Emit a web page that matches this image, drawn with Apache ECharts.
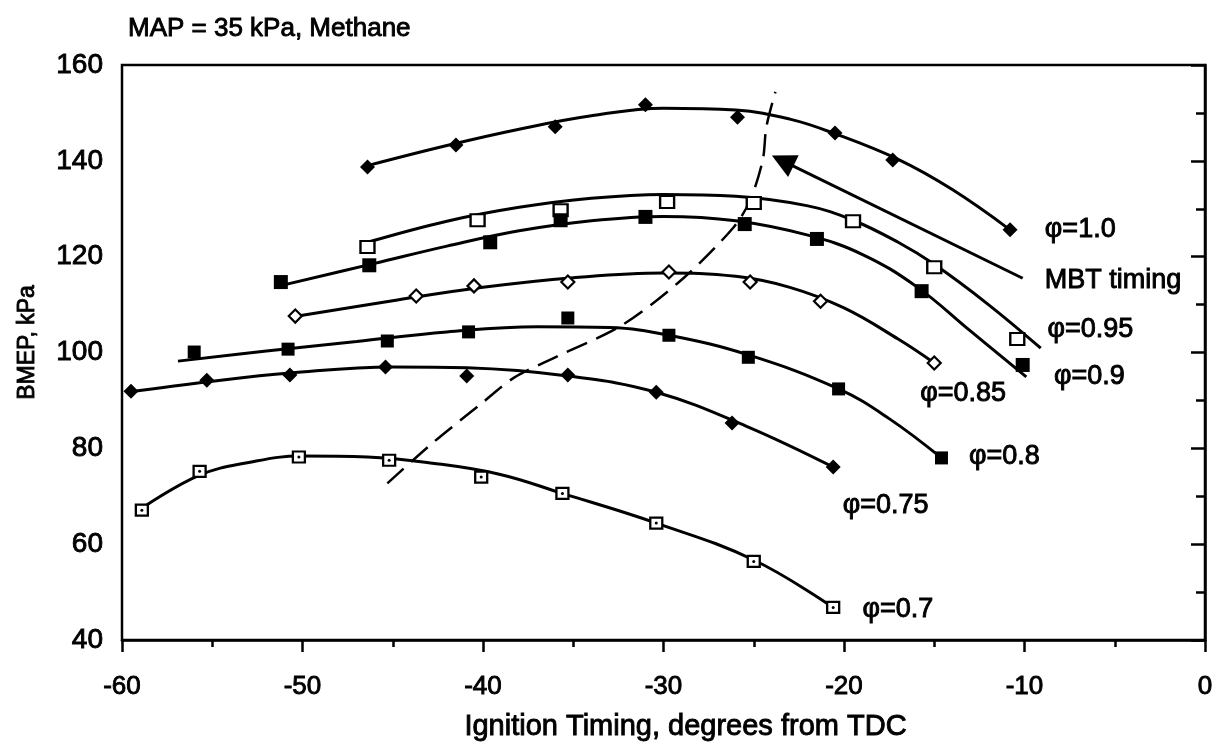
<!DOCTYPE html>
<html>
<head>
<meta charset="utf-8">
<title>BMEP vs ignition timing</title>
<script src="https://cdn.jsdelivr.net/npm/echarts@6/dist/echarts.min.js"></script>
<style>
  html, body { margin: 0; padding: 0; background: #fff; }
  #chart { width: 1214px; height: 742px; }
</style>
</head>
<body>
<div id="chart"></div>
<script>
// x = ignition timing (deg from TDC), y = BMEP (kPa)
var phi10Points = [[-46.4, 138.7], [-41.5, 143.3], [-36.0, 147.1], [-31.0, 151.7], [-25.9, 149.1], [-20.5, 145.8], [-17.3, 140.2], [-10.8, 125.6]]
var phi10Curve = [[-46.4, 139.0], [-42, 143.2], [-38, 146.6], [-34, 149.4], [-30, 151.0], [-26, 150.6], [-23, 148.7], [-20.6, 145.8], [-17, 140.3], [-14, 134.0], [-10.8, 125.6]]

var phi095Points = [[-46.4, 122.0], [-40.3, 127.6], [-35.7, 129.7], [-29.8, 131.4], [-25.0, 131.2], [-19.5, 127.4], [-15.0, 117.8], [-10.4, 102.8]]
var phi095Curve = [[-46.4, 123.0], [-42, 127.4], [-38, 130.3], [-34, 132.2], [-30, 133.0], [-26, 132.6], [-22, 130.6], [-19.5, 127.6], [-17, 123.0], [-15, 118.4], [-12, 110.0], [-9.1, 100.9]]

var phi09Points = [[-51.2, 114.7], [-46.3, 118.2], [-39.6, 123.0], [-35.7, 127.6], [-31.0, 128.3], [-25.5, 126.8], [-21.5, 123.7], [-15.7, 112.8], [-10.1, 97.4]]
var phi09Curve = [[-51.5, 113.7], [-46, 118.6], [-42, 122.2], [-38, 125.4], [-34, 127.5], [-30, 128.4], [-26, 127.5], [-22, 124.5], [-19, 120.5], [-16, 113.8], [-13, 104.5], [-9.9, 94.9]]

var phi085Points = [[-50.4, 107.6], [-43.7, 111.8], [-40.5, 113.9], [-35.3, 114.7], [-29.7, 116.8], [-25.2, 114.7], [-21.3, 110.7], [-15.0, 97.8]]
var phi085Curve = [[-50.6, 107.4], [-45, 110.8], [-40, 113.6], [-35, 115.6], [-30, 116.6], [-26, 115.9], [-23, 113.6], [-20, 109.3], [-17, 102.8], [-15, 97.8]]

var phi08Points = [[-56.0, 100.1], [-50.8, 100.7], [-45.3, 102.4], [-40.8, 104.3], [-35.3, 107.2], [-29.7, 103.6], [-25.3, 99.0], [-20.3, 92.4], [-14.6, 78.0]]
var phi08Curve = [[-56.9, 98.2], [-52, 100.3], [-47, 102.3], [-42, 104.3], [-37, 105.4], [-33, 105.2], [-29.7, 103.6], [-25.3, 99.5], [-20.3, 92.4], [-17.5, 86.2], [-14.6, 78.0]]

var phi075Points = [[-59.5, 91.9], [-55.3, 94.2], [-50.7, 95.3], [-45.4, 97.0], [-40.9, 95.1], [-35.3, 95.3], [-30.4, 91.7], [-26.2, 85.3], [-20.6, 76.1]]
var phi075Curve = [[-59.7, 91.7], [-55, 94.0], [-50.7, 95.7], [-45, 97.0], [-40.9, 96.8], [-35.3, 95.1], [-30.4, 91.7], [-25.4, 84.6], [-20.6, 76.1]]

var phi07Points = [[-58.9, 67.1], [-55.7, 75.2], [-50.2, 78.2], [-45.2, 77.5], [-40.1, 74.0], [-35.6, 70.6], [-30.4, 64.4], [-25.0, 56.4], [-20.6, 46.8]]
var phi07Curve = [[-58.9, 67.5], [-55.7, 74.4], [-52.9, 77.1], [-50.1, 78.4], [-46.4, 78.2], [-42.8, 76.9], [-39.1, 74.6], [-35.6, 70.6], [-30.4, 64.4], [-25.0, 56.7], [-20.6, 46.8]]

// dashed MBT timing locus and the arrow that labels it
var mbtLine = [[-45.3, 72.7], [-42.8, 81.1], [-40.2, 89.0], [-38.3, 94.7], [-36.0, 99.0], [-32.3, 105.7], [-28.9, 115.5], [-26.1, 126.2], [-25.2, 131.8], [-24.5, 140.2], [-24.3, 147.1], [-23.8, 154.4]]
var mbtPointer = [[-23.4, 140.0], [-10.1, 115.5]]

var labelTexts = ['φ=1.0', 'MBT timing', 'φ=0.95', 'φ=0.9', 'φ=0.85', 'φ=0.8', 'φ=0.75', 'φ=0.7']
var labelX = [-8.9, -8.9, -8.75, -8.4, -15.8, -13.1, -20.1, -19.0]
var labelY = [125.6, 115.1, 104.7, 94.9, 91.5, 78.2, 68.1, 46.4]

var xTickLabels = [-60, -50, -40, -30, -20, -10, 0]
var Y_MIN = 40

var FONT = 'Liberation Sans, Arial, Helvetica, sans-serif'
// thin outline makes the text look as heavy as the scanned original
var INK = { fontFamily: FONT, color: '#000', textBorderColor: '#000', textBorderWidth: 0.9, opacity: 1 }

function txt(size, extra) {
  return Object.assign({ fontSize: size }, INK, extra || {})
}

function curve(data) {
  return {
    type: 'line',
    data: data,
    smooth: 0.4,
    showSymbol: false,
    silent: true,
    z: 2,
    lineStyle: { color: '#000', width: 3 }
  }
}

function points(data, symbol, size, filled) {
  return {
    type: 'scatter',
    data: data,
    symbol: symbol,
    symbolSize: size,
    z: 3,
    itemStyle: {
      color: filled ? '#000' : '#fff',
      borderColor: '#000',
      borderWidth: filled ? 0 : 2.2,
      opacity: 1
    }
  }
}

var chart = echarts.init(document.getElementById('chart'))

chart.setOption({
  animation: false,
  backgroundColor: '#fff',
  textStyle: { fontFamily: FONT, color: '#000' },
  title: {
    text: 'MAP = 35 kPa, Methane',
    left: 128,
    top: 16,
    padding: 0,
    textStyle: txt(26, { fontWeight: 'normal' })
  },
  grid: {
    left: 122,
    right: 9,
    top: 65,
    bottom: 102,
    // only the tick labels need to stay inside; the axis names sit near the edge
    outerBoundsContain: 'axisLabel',
    show: true,
    borderColor: '#000',
    borderWidth: 2.5
  },
  xAxis: {
    type: 'value',
    min: -60,
    max: 0,
    interval: 10,
    name: 'Ignition Timing, degrees from TDC',
    nameLocation: 'middle',
    nameGap: 72,
    nameTextStyle: txt(29, { padding: [0, 0, 0, 44] }),
    axisLine: { lineStyle: { color: '#000', width: 2.5 } },
    axisTick: { length: 12, lineStyle: { color: '#000', width: 2.5 } },
    minorTick: { show: true, splitNumber: 2, length: 7, lineStyle: { color: '#000', width: 2.5 } },
    // tick labels are drawn by the series below so their distance is exact
    axisLabel: { show: false },
    splitLine: { show: false }
  },
  yAxis: {
    type: 'value',
    min: Y_MIN,
    max: 160,
    interval: 20,
    name: 'BMEP, kPa',
    nameLocation: 'middle',
    nameGap: 83,
    nameTextStyle: txt(23, { padding: [0, 0, 0, 20] }),
    axisLine: { lineStyle: { color: '#000', width: 2.5 } },
    axisTick: { length: 14, lineStyle: { color: '#000', width: 2.5 } },
    minorTick: { show: true, splitNumber: 2, length: 9, lineStyle: { color: '#000', width: 2.5 } },
    axisLabel: txt(28, { margin: 19 }),
    splitLine: { show: false }
  },
  series: [
    curve(phi10Curve),
    curve(phi095Curve),
    curve(phi09Curve),
    curve(phi085Curve),
    curve(phi08Curve),
    curve(phi075Curve),
    curve(phi07Curve),
    {
      type: 'line',
      data: mbtLine,
      smooth: 0.3,
      showSymbol: false,
      silent: true,
      z: 2,
      lineStyle: { color: '#000', width: 2.5, type: [22, 10] }
    },
    {
      type: 'lines',
      coordinateSystem: 'cartesian2d',
      silent: true,
      z: 2,
      symbol: ['triangle', 'none'],
      symbolSize: 24,
      lineStyle: { color: '#000', width: 3, opacity: 1 },
      data: [{ coords: mbtPointer }]
    },
    points(phi10Points, 'diamond', 15, true),
    points(phi095Points, 'rect', [14, 12], false),
    points(phi09Points, 'rect', 14, true),
    points(phi085Points, 'diamond', 13, false),
    points(phi08Points, 'rect', 13, true),
    points(phi075Points, 'diamond', 15, true),
    points(phi07Points, 'rect', [12, 11], false),
    // centre dots of the phi=0.7 markers
    points(phi07Points, 'circle', 3, true),
    {
      type: 'scatter',
      silent: true,
      z: 4,
      symbolSize: 1,
      itemStyle: { color: '#fff', opacity: 0 },
      label: Object.assign({
        show: true,
        position: 'right',
        distance: 0,
        formatter: '{b}'
      }, txt(27)),
      data: labelTexts.map(function (t, i) {
        return { name: t, value: [labelX[i], labelY[i]] }
      })
    },
    {
      // x tick labels, centred a fixed distance under the axis
      type: 'scatter',
      silent: true,
      clip: false,
      z: 4,
      symbolSize: 1,
      itemStyle: { color: '#fff', opacity: 0 },
      label: Object.assign({
        show: true,
        position: 'inside',
        offset: [0, 47],
        formatter: function (p) { return String(p.value[0]) }
      }, txt(26)),
      data: xTickLabels.map(function (v) { return [v, Y_MIN] })
    }
  ]
})
</script>
</body>
</html>
